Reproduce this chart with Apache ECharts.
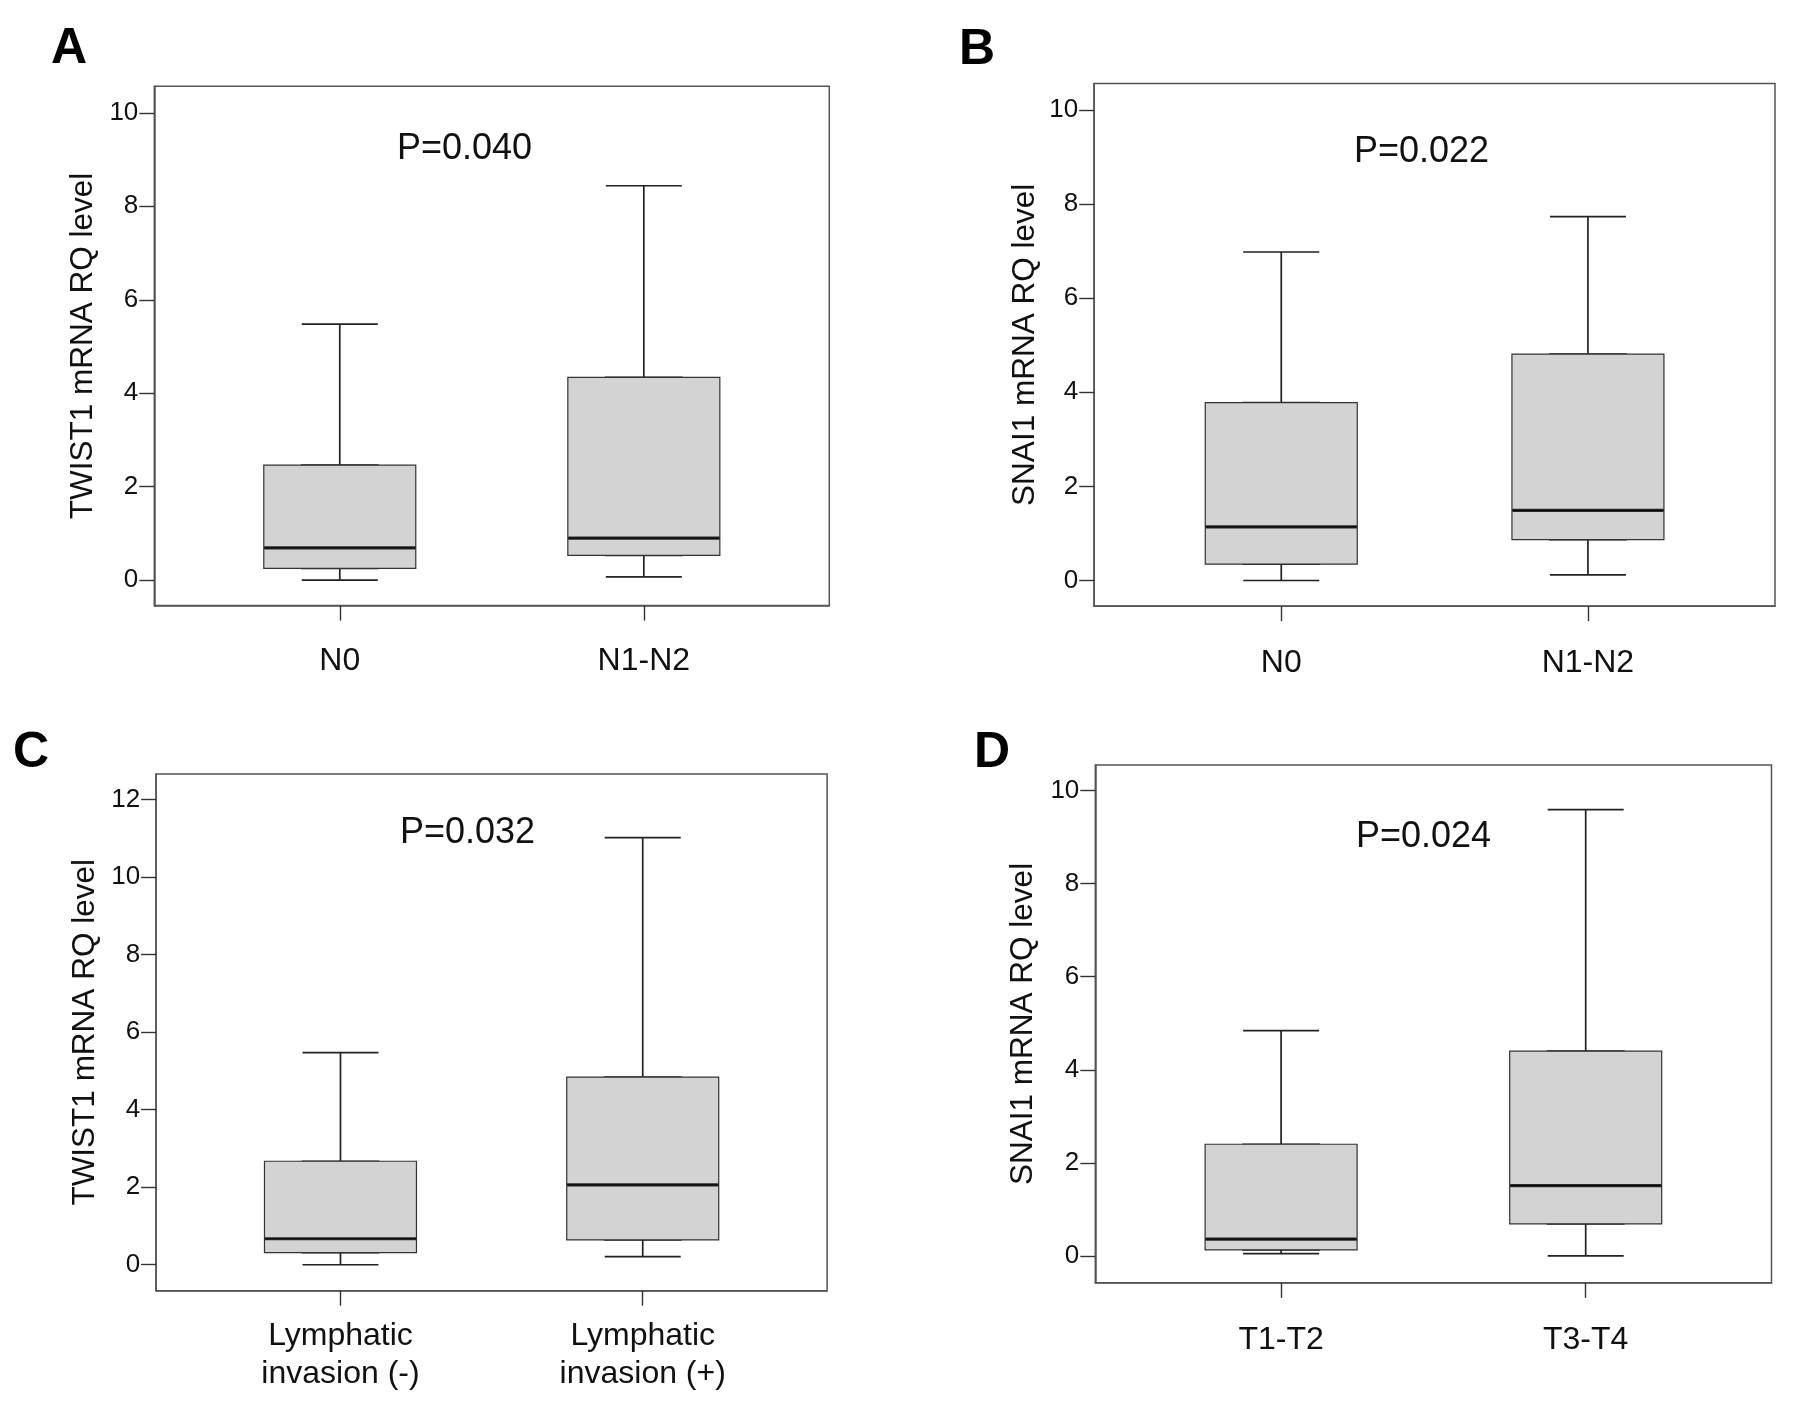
<!DOCTYPE html>
<html><head><meta charset="utf-8">
<script src="https://cdn.jsdelivr.net/npm/echarts@6.0.0/dist/echarts.min.js"></script>
<style>html,body{margin:0;padding:0;background:#fff}#c{width:1795px;height:1403px}</style>
</head><body><div id="c"></div>
<script>
// ---- data ----
const catsNodes = ['N0', 'N1-N2'];
const catsLymph = ['Lymphatic\ninvasion (-)', 'Lymphatic\ninvasion (+)'];
const catsStage = ['T1-T2', 'T3-T4'];
// five-number summaries per group: [min, Q1, median, Q3, max]
const twistNodes = [[0.00, 0.25, 0.69, 2.46, 5.48], [0.07, 0.53, 0.90, 4.34, 8.44]];
const snaiNodes  = [[0.00, 0.35, 1.14, 3.78, 6.98], [0.12, 0.87, 1.49, 4.81, 7.73]];
const twistLymph = [[0.00, 0.31, 0.67, 2.67, 5.47], [0.21, 0.64, 2.06, 4.84, 11.02]];
const snaiStage  = [[0.05, 0.13, 0.36, 2.40, 4.84], [0.00, 0.69, 1.51, 4.40, 9.59]];
const ticks10 = [0, 2, 4, 6, 8, 10];
const ticks12 = [0, 2, 4, 6, 8, 10, 12];
const yTitleTwist = 'TWIST1 mRNA RQ level';
const yTitleSnai = 'SNAI1 mRNA RQ level';
const panelLetters = ['A', 'B', 'C', 'D'];
const pValues = ['P=0.040', 'P=0.022', 'P=0.032', 'P=0.024'];

// ---- layout / style ----
const FONT = "'Liberation Sans', Arial, Helvetica, sans-serif";
const panels = [
  {cats: catsNodes, vals: twistNodes, ticks: ticks10, name: yTitleTwist,
   g: {left: 154.3, top: 86.2, width: 675, height: 519.4}, yMin: -0.545, yMax: 10.57,
   nameGap: 55, margin: 39, lineHeight: 34, letter: [51, 24], p: [397, 131]},
  {cats: catsNodes, vals: snaiNodes, ticks: ticks10, name: yTitleSnai,
   g: {left: 1094.2, top: 83.5, width: 680.8, height: 522.7}, yMin: -0.546, yMax: 10.56,
   nameGap: 53, margin: 40, lineHeight: 34, letter: [959, 25], p: [1354, 134]},
  {cats: catsLymph, vals: twistLymph, ticks: ticks12, name: yTitleTwist,
   g: {left: 156.1, top: 774, width: 671, height: 516.7}, yMin: -0.67, yMax: 12.66,
   nameGap: 55, margin: 26, lineHeight: 38.4, letter: [13, 728], p: [400, 815]},
  {cats: catsStage, vals: snaiStage, ticks: ticks10, name: yTitleSnai,
   g: {left: 1095.3, top: 765, width: 676.2, height: 517.8}, yMin: -0.578, yMax: 10.55,
   nameGap: 56, margin: 40, lineHeight: 34, letter: [974, 728], p: [1356, 819]}
];

const grid = [], xAxis = [], yAxis = [], series = [], title = [];
panels.forEach((p, i) => {
  grid.push(Object.assign({show: true, borderColor: '#555', borderWidth: 1.5,
    backgroundColor: 'transparent', outerBoundsMode: 'none', containLabel: false}, p.g));
  // visible category-position axis
  xAxis.push({
    gridIndex: i, type: 'value', min: 0.39, max: 2.61,
    axisLine: {show: true, onZero: false, lineStyle: {color: '#555', width: 1.5}},
    axisTick: {show: true, customValues: [1, 2], length: 15, inside: false,
      lineStyle: {color: '#333', width: 1.4}},
    axisLabel: {show: true, customValues: [1, 2], formatter: v => p.cats[Math.round(v) - 1] || '',
      margin: p.margin, fontSize: 32, lineHeight: p.lineHeight, color: '#111', fontFamily: FONT},
    splitLine: {show: false}
  });
  // hidden twin axis so the wide box is not grouped beside the whiskers
  xAxis.push({
    gridIndex: i, type: 'value', min: 0.39, max: 2.61, show: false,
    axisLine: {onZero: false}, splitLine: {show: false}
  });
  yAxis.push({
    gridIndex: i, type: 'value', min: p.yMin, max: p.yMax,
    axisLine: {show: true, onZero: false, lineStyle: {color: '#555', width: 1.5}},
    axisTick: {show: true, customValues: p.ticks, length: 15, inside: false,
      lineStyle: {color: '#333', width: 1.4}},
    axisLabel: {show: true, customValues: p.ticks, margin: 16, fontSize: 26,
      color: '#111', fontFamily: FONT},
    splitLine: {show: false},
    name: p.name, nameLocation: 'middle', nameGap: p.nameGap,
    nameTextStyle: {fontSize: 31.5, color: '#111', fontFamily: FONT}
  });
  // whiskers with short caps (real five-number summary)
  series.push({
    type: 'boxplot', xAxisIndex: 2 * i, yAxisIndex: i, z: 2, silent: true,
    boxWidth: [76, 76], emphasis: {disabled: true},
    itemStyle: {color: '#d3d3d3', borderColor: '#222', borderWidth: 1.7},
    data: p.vals.map((v, k) => [k + 1, v[0], v[1], v[2], v[3], v[4]])
  });
  // wide interquartile box
  series.push({
    type: 'boxplot', xAxisIndex: 2 * i + 1, yAxisIndex: i, z: 3, silent: true,
    boxWidth: [152, 152], emphasis: {disabled: true},
    itemStyle: {color: '#d3d3d3', borderColor: '#333', borderWidth: 1.2},
    data: p.vals.map((v, k) => [k + 1, v[1], v[1], v[2], v[3], v[3]])
  });
  // thick median line
  series.push({
    type: 'scatter', xAxisIndex: 2 * i, yAxisIndex: i, z: 4, silent: true,
    symbol: 'rect', symbolSize: [151, 3.2], emphasis: {disabled: true},
    itemStyle: {color: '#000'},
    data: p.vals.map((v, k) => [k + 1, v[2]])
  });
  title.push({text: panelLetters[i], left: p.letter[0], top: p.letter[1], padding: 0,
    textStyle: {fontSize: 50, fontWeight: 'bold', color: '#000', fontFamily: FONT}});
  title.push({text: pValues[i], left: p.p[0], top: p.p[1], padding: 0,
    textStyle: {fontSize: 36, fontWeight: 'normal', color: '#111', fontFamily: FONT}});
});

const chart = echarts.init(document.getElementById('c'), null, {renderer: 'canvas'});
chart.setOption({
  backgroundColor: '#fff', animation: false,
  textStyle: {fontFamily: FONT},
  title, grid, xAxis, yAxis, series
});
</script></body></html>
